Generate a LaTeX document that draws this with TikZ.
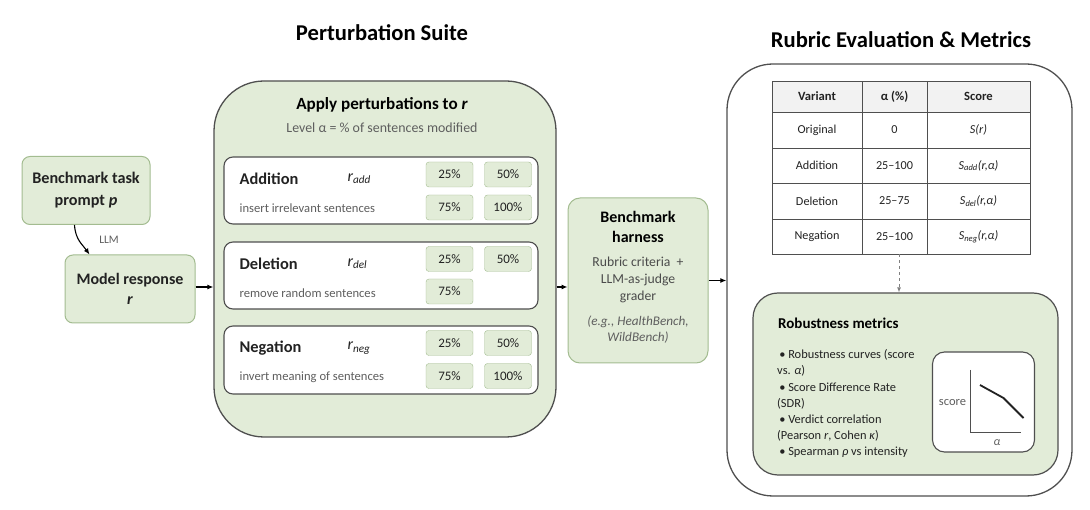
\documentclass[tikz,border=0pt]{standalone}
\usepackage{fontspec}
\setmainfont{Carlito}
\usetikzlibrary{arrows.meta,calc}
\definecolor{gfill}{HTML}{E2ECD8}
\definecolor{gline}{HTML}{A3BC90}
\definecolor{dline}{HTML}{4F4F4F}
\definecolor{gtext}{HTML}{5E5E5E}
\definecolor{ttext}{HTML}{222222}
\definecolor{hfill}{HTML}{F2F2F2}
\begin{document}
\begin{tikzpicture}[x=1pt,y=-1pt,
  every node/.style={text=ttext},
  titlefont/.style={font=\fontsize{22.6}{25}\selectfont\bfseries, text=black},
  greenbox/.style={draw=gline, fill=gfill, rounded corners=8pt, line width=1pt},
  bigbox/.style={draw=dline, line width=1.3pt},
  whitebox/.style={draw=dline, fill=white, rounded corners=9pt, line width=1.1pt},
  pct/.style={draw=gline, fill=gfill, rounded corners=3pt, minimum width=47pt, minimum height=25pt, inner sep=0pt, font=\fontsize{13}{14}\selectfont, text=ttext},
  opname/.style={font=\fontsize{16.4}{18}\selectfont\bfseries, anchor=west, inner sep=0pt},
  opvar/.style={font=\fontsize{16}{18}\selectfont\itshape, anchor=west, inner sep=0pt},
  opdesc/.style={font=\fontsize{12.6}{14}\selectfont, text=gtext, anchor=west, inner sep=0pt},
  arr/.style={-{Latex[length=6pt,width=5pt]}, line width=1.1pt, draw=black},
  cell/.style={draw=dline, line width=0.9pt, inner sep=0pt, font=\fontsize{12.2}{13}\selectfont},
  hcell/.style={cell, fill=hfill, font=\fontsize{12.6}{13}\selectfont\bfseries}]
\useasboundingbox (0,0) rectangle (1090,510);

% titles
\node[titlefont] (t1) at (382,33) {Perturbation Suite};
\node[titlefont] (t2) at (901,40) {Rubric Evaluation \& Metrics};

% left boxes
\node[greenbox, minimum width=128pt, minimum height=68pt, font=\fontsize{16.2}{22}\selectfont\bfseries, align=center] (prompt) at (86,190.5) {Benchmark task\\prompt \textit{p}};
\node[greenbox, minimum width=130pt, minimum height=68pt, font=\fontsize{16}{20}\selectfont\bfseries, align=center] (resp) at (130,289) {Model response\\\textit{r}};
\coordinate (llmA) at ($(prompt.south west)+(53,0)$);
\coordinate (llmB) at ($(resp.north west)+(25,0)$);
\draw[arr] (llmA) .. controls +(1,15) and +(-7,-10) .. (llmB);
\node[font=\fontsize{11.5}{12}\selectfont, text=gtext] (llm) at (109,240) {LLM};

% perturbation suite
\node[bigbox, fill=gfill, minimum width=342pt, minimum height=356pt, rounded corners=50pt] (suite) at (385,259) {};
\draw[arr] ($(resp.east)+(0,-2)$) -- ($(resp.east -| suite.west)+(0,-2)$);
\node[font=\fontsize{17.1}{19}\selectfont\bfseries, text=black] (apply) at (382,105) {Apply perturbations to \textit{r}};
\node[font=\fontsize{13.9}{15}\selectfont, text=gtext] (level) at (382,128) {Level α = \% of sentences modified};

\node[whitebox, minimum width=314pt, minimum height=67pt] (add) at (381,190.5) {};
\node[whitebox, minimum width=314pt, minimum height=67pt] (del) at (381,275.5) {};
\node[whitebox, minimum width=314pt, minimum height=68pt] (neg) at (381,360) {};

\node[opname] (addN) at ($(add.west)+(16,-12)$) {Addition};
\node[opvar] (addV) at ($(add.west)+(124,-12)$) {r\textsubscript{add}};
\node[opdesc] (addD) at ($(add.west)+(16,17.5)$) {insert irrelevant sentences};
\node[pct] (add25) at ($(add.center)+(68.5,-16)$) {25\%};
\node[pct] (add50) at ($(add.center)+(127,-16)$) {50\%};
\node[pct] (add75) at ($(add.center)+(68.5,17)$) {75\%};
\node[pct] (add100) at ($(add.center)+(127,17)$) {100\%};

\node[opname] (delN) at ($(del.west)+(16,-12)$) {Deletion};
\node[opvar] (delV) at ($(del.west)+(124,-12)$) {r\textsubscript{del}};
\node[opdesc] (delD) at ($(del.west)+(16,17.5)$) {remove random sentences};
\node[pct] (del25) at ($(del.center)+(68.5,-16.5)$) {25\%};
\node[pct] (del50) at ($(del.center)+(127,-16.5)$) {50\%};
\node[pct] (del75) at ($(del.center)+(68.5,16)$) {75\%};

\node[opname] (negN) at ($(neg.west)+(16,-12)$) {Negation};
\node[opvar] (negV) at ($(neg.west)+(124,-12)$) {r\textsubscript{neg}};
\node[opdesc] (negD) at ($(neg.west)+(16,17.5)$) {invert meaning of sentences};
\node[pct] (neg25) at ($(neg.center)+(68.5,-17)$) {25\%};
\node[pct] (neg50) at ($(neg.center)+(127,-17)$) {50\%};
\node[pct] (neg75) at ($(neg.center)+(68.5,16)$) {75\%};
\node[pct] (neg100) at ($(neg.center)+(127,16)$) {100\%};

% harness
\node[greenbox, minimum width=140pt, minimum height=165pt, rounded corners=12pt] (harness) at (638,280.5) {};
\node[font=\fontsize{16}{20}\selectfont\bfseries, align=center, text=black] (hT) at (638,227) {Benchmark\\harness};
\node[font=\fontsize{13.7}{17}\selectfont, align=center, text=gtext!80!black] (hD) at (638,280) {Rubric criteria \ +\\LLM-as-judge\\grader};
\node[font=\fontsize{13.2}{16}\selectfont\itshape, align=center, text=gtext] (hE) at (638,330) {(e.g., HealthBench,\\WildBench)};
\draw[arr] ($(harness.west -| suite.east)+(0,6.5)$) -- ($(harness.west)+(0,6.5)$);

% right box
\node[bigbox, fill=white, minimum width=345pt, minimum height=432pt, rounded corners=46pt] (rbox) at (899.5,280) {};
\draw[arr] (harness.east) -- (harness.east -| rbox.west);

% table
\node[hcell, minimum width=90pt, minimum height=31pt] (v01) at (817,96.5) {Variant};
\node[hcell, minimum width=65pt, minimum height=31pt] (v02) at (894.5,96.5) {α (\%)};
\node[hcell, minimum width=103pt, minimum height=31pt] (v03) at (978.5,96.5) {Score};
\node[cell, minimum width=90pt, minimum height=36pt] (v11) at (817,130) {Original};
\node[cell, minimum width=65pt, minimum height=36pt] (v12) at (894.5,130) {0};
\node[cell, minimum width=103pt, minimum height=36pt] (v13) at (978.5,130) {\textit{S(r)}};
\node[cell, minimum width=90pt, minimum height=35pt] (v21) at (817,165.5) {Addition};
\node[cell, minimum width=65pt, minimum height=35pt] (v22) at (894.5,165.5) {25–100};
\node[cell, minimum width=103pt, minimum height=35pt] (v23) at (978.5,165.5) {\textit{S\textsubscript{add}(r,α)}};
\node[cell, minimum width=90pt, minimum height=36pt] (v31) at (817,201) {Deletion};
\node[cell, minimum width=65pt, minimum height=36pt] (v32) at (894.5,201) {25–75};
\node[cell, minimum width=103pt, minimum height=36pt] (v33) at (978.5,201) {\textit{S\textsubscript{del}(r,α)}};
\node[cell, minimum width=90pt, minimum height=35pt] (v41) at (817,236.5) {Negation};
\node[cell, minimum width=65pt, minimum height=35pt] (v42) at (894.5,236.5) {25–100};
\node[cell, minimum width=103pt, minimum height=35pt] (v43) at (978.5,236.5) {\textit{S\textsubscript{neg}(r,α)}};

% robustness
\node[bigbox, fill=gfill, line width=1.2pt, minimum width=305pt, minimum height=182pt, rounded corners=25pt] (rob) at (905.5,384) {};
\coordinate (dashTop) at ($(v42.south)+(4.5,0)$);
\draw[dashed, draw=gray, line width=0.9pt, -{Latex[length=5pt,width=4pt]}] (dashTop) -- (dashTop |- rob.north);
\node[font=\fontsize{15}{17}\selectfont\bfseries, anchor=west, inner sep=0pt, text=black] (robT) at (778,323) {Robustness metrics};
\node[font=\fontsize{12.4}{16.2}\selectfont, align=left, anchor=north west, inner sep=0pt] (robL) at (777,349.5) {\,• Robustness curves (score\\vs. \textit{α})\\\,• Score Difference Rate\\(SDR)\\\,• Verdict correlation\\(Pearson \textit{r}, Cohen \textit{κ})\\\,• Spearman \textit{ρ} vs intensity};

% mini plot
\node[whitebox, minimum width=102pt, minimum height=100pt, rounded corners=12pt] (plot) at (983.5,402) {};
\coordinate (ax0) at ($(plot.center)+(-13.5,31)$);
\coordinate (axY) at ($(plot.center)+(-13.5,-32)$);
\coordinate (axX) at ($(plot.center)+(37,31)$);
\draw[draw=dline, line width=1pt] (axY) -- (ax0) -- (axX);
\draw[line width=1.8pt, draw=ttext] ($(plot.center)+(-3.5,-17)$) -- ($(plot.center)+(20,-4)$) -- ($(plot.center)+(40,16)$);
\node[font=\fontsize{12.5}{13}\selectfont, text=gtext] (scoreL) at ($(plot.center)+(-31,1)$) {score};
\node[font=\fontsize{12}{13}\selectfont\itshape, text=gtext] (alphaL) at ($(plot.center)+(13.5,41)$) {α};
\end{tikzpicture}
\end{document}
